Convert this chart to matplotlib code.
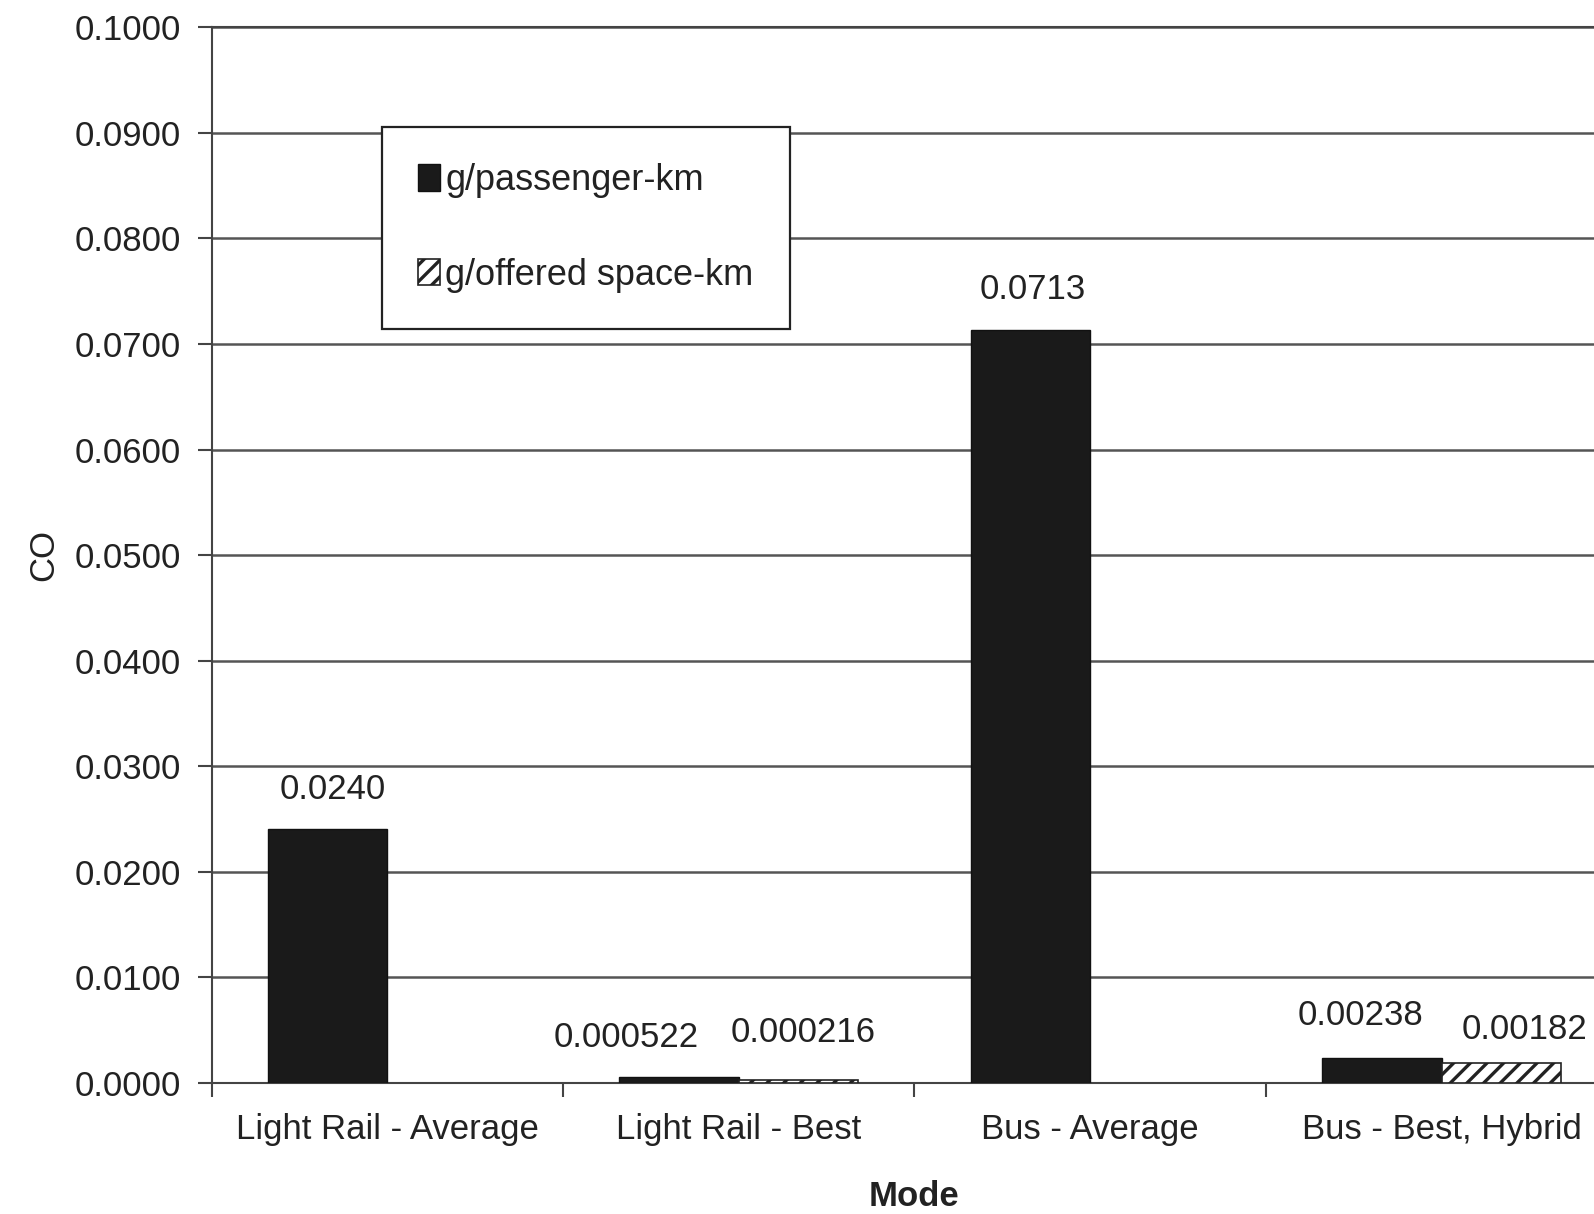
import numpy as np
import matplotlib
matplotlib.use("Agg")
import matplotlib.pyplot as plt

plt.rcParams["font.family"] = ["Liberation Sans", "DejaVu Sans"]
plt.rcParams["hatch.linewidth"] = 2.4

# CO emissions by mode
modes = ["Light Rail - Average", "Light Rail - Best", "Bus - Average", "Bus - Best, Hybrid"]
per_passenger = [0.0240, 0.000522, 0.0713, 0.00238]
per_space = [np.nan, 0.000216, np.nan, 0.00182]
passenger_text = ["0.0240", "0.000522", "0.0713", "0.00238"]
space_text = ["", "0.000216", "", "0.00182"]

FS = 25

fig = plt.figure(figsize=(15.94, 12.14), dpi=100)
ax = fig.add_axes([0.1327, 0.1082, 0.882, 0.8692])

x = np.arange(len(modes))
w = 0.34
ax.bar(x - w / 2, per_passenger, w, color="#1a1a1a", edgecolor="#111111",
       linewidth=1, label="g/passenger-km", zorder=3)
ax.bar(x + w / 2, per_space, w, color="white", edgecolor="#222222",
       hatch="//", linewidth=1.2, label="g/offered space-km", zorder=3)

# value labels (small nudges keep neighbouring labels apart)
off1 = [(5, 40), (-53, 40), (2, 41), (-21, 42)]
off2 = [(0, 0), (5, 48), (0, 0), (23, 34)]
for i in range(len(modes)):
    ax.annotate(passenger_text[i], (x[i] - w / 2, per_passenger[i]),
                xytext=off1[i], textcoords="offset pixels",
                ha="center", va="center", fontsize=FS, color="#222222")
    if space_text[i]:
        ax.annotate(space_text[i], (x[i] + w / 2, per_space[i]),
                    xytext=off2[i], textcoords="offset pixels",
                    ha="center", va="center", fontsize=FS, color="#222222")

ax.set_xlim(-0.5, 3.5)
ax.set_ylim(0, 0.1)
yt = np.arange(0, 0.1001, 0.01)
ax.set_yticks(yt)
ax.set_yticklabels([f"{v:.4f}" for v in yt])
ax.set_xticks(np.arange(-0.5, 3.6, 1.0))
ax.set_xticklabels([])
ax.set_xticks(x, minor=True)
ax.set_xticklabels(modes, minor=True)

ax.tick_params(axis="y", labelsize=FS, length=10, width=1.5, pad=12,
               color="#444444", labelcolor="#222222")
ax.tick_params(axis="x", which="major", length=10, width=1.5, color="#444444")
ax.tick_params(axis="x", which="minor", length=0, labelsize=FS, pad=22,
               labelcolor="#222222")

ax.grid(axis="y", color="#555555", linewidth=1.8, zorder=1)
ax.set_axisbelow(True)
for s in ["left", "bottom", "top"]:
    ax.spines[s].set_color("#444444")
    ax.spines[s].set_linewidth(1.5)
ax.spines["right"].set_visible(False)

ax.set_ylabel("CO", fontsize=FS, color="#222222", labelpad=10)
ax.set_xlabel("Mode", fontsize=FS, fontweight="bold", color="#222222", labelpad=24)

leg = ax.legend(loc="upper left", bbox_to_anchor=(0.2397, 0.8954),
                bbox_transform=fig.transFigure, fontsize=26, frameon=True,
                fancybox=False, framealpha=1, edgecolor="#222222",
                handlelength=0.6, handleheight=0.75, handletextpad=0.15,
                labelspacing=1.65, borderpad=1.0, borderaxespad=0)
leg.get_frame().set_linewidth(1.6)
for t in leg.get_texts():
    t.set_color("#222222")

fig.savefig("out.png", dpi=100)
